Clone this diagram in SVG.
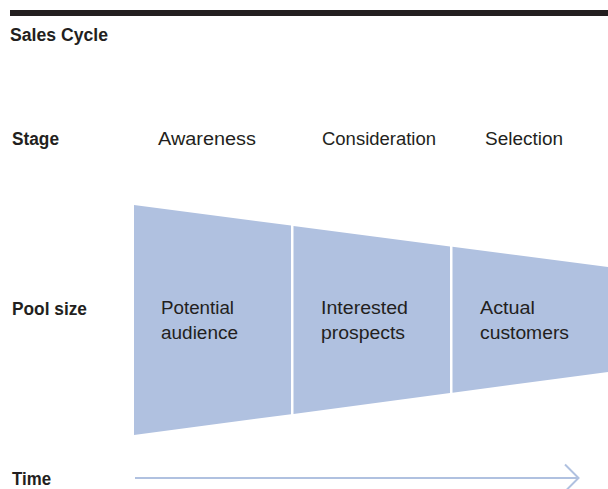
<svg xmlns="http://www.w3.org/2000/svg" width="608" height="489" viewBox="0 0 608 489">
  <defs>
    <style>
      .bold { font-family: "Liberation Sans", Arial, sans-serif; font-weight: bold; font-size: 17.5px; fill: #231f20; }
      .reg { font-family: "Liberation Sans", Arial, sans-serif; font-size: 17.5px; fill: #231f20; }
      .seg { fill: #b0c1e0; }
      .conn { stroke: #b0c1e0; stroke-width: 2; fill: none; }
    </style>
  </defs>
  <rect width="608" height="489" fill="#ffffff"/>
  <rect x="10" y="10" width="598" height="6" fill="#231f20"/>
  <text class="bold" x="10" y="41" textLength="98" lengthAdjust="spacingAndGlyphs">Sales Cycle</text>

  <g id="row-labels">
    <text class="bold" x="12" y="145" textLength="47" lengthAdjust="spacingAndGlyphs">Stage</text>
    <text class="bold" x="12" y="315" textLength="75" lengthAdjust="spacingAndGlyphs">Pool size</text>
    <text class="bold" x="12" y="485" textLength="39" lengthAdjust="spacingAndGlyphs">Time</text>
  </g>

  <g id="stage-labels">
    <text class="reg" x="158" y="145" textLength="98" lengthAdjust="spacingAndGlyphs">Awareness</text>
    <text class="reg" x="322" y="145" textLength="114" lengthAdjust="spacingAndGlyphs">Consideration</text>
    <text class="reg" x="485" y="145" textLength="78" lengthAdjust="spacingAndGlyphs">Selection</text>
  </g>

  <g id="awareness">
    <polygon class="seg" points="134,205 291,225.6 291,414.2 134,435"/>
    <text class="reg" x="161" y="314" textLength="73" lengthAdjust="spacingAndGlyphs">Potential</text>
    <text class="reg" x="161" y="339" textLength="77" lengthAdjust="spacingAndGlyphs">audience</text>
  </g>

  <g id="consideration">
    <polygon class="seg" points="293.5,226 450,246.4 450,393 293.5,413.9"/>
    <text class="reg" x="321" y="314" textLength="87" lengthAdjust="spacingAndGlyphs">Interested</text>
    <text class="reg" x="321" y="339" textLength="84" lengthAdjust="spacingAndGlyphs">prospects</text>
  </g>

  <g id="selection">
    <polygon class="seg" points="452.5,246.7 608,267 608,372 452.5,392.7"/>
    <text class="reg" x="480" y="314" textLength="55" lengthAdjust="spacingAndGlyphs">Actual</text>
    <text class="reg" x="480" y="339" textLength="89" lengthAdjust="spacingAndGlyphs">customers</text>
  </g>

  <g id="connectors">
    <line class="conn" x1="135" y1="478" x2="578" y2="478"/>
    <polyline class="conn" points="565,464.5 578.5,478 565,491.5"/>
  </g>
</svg>
